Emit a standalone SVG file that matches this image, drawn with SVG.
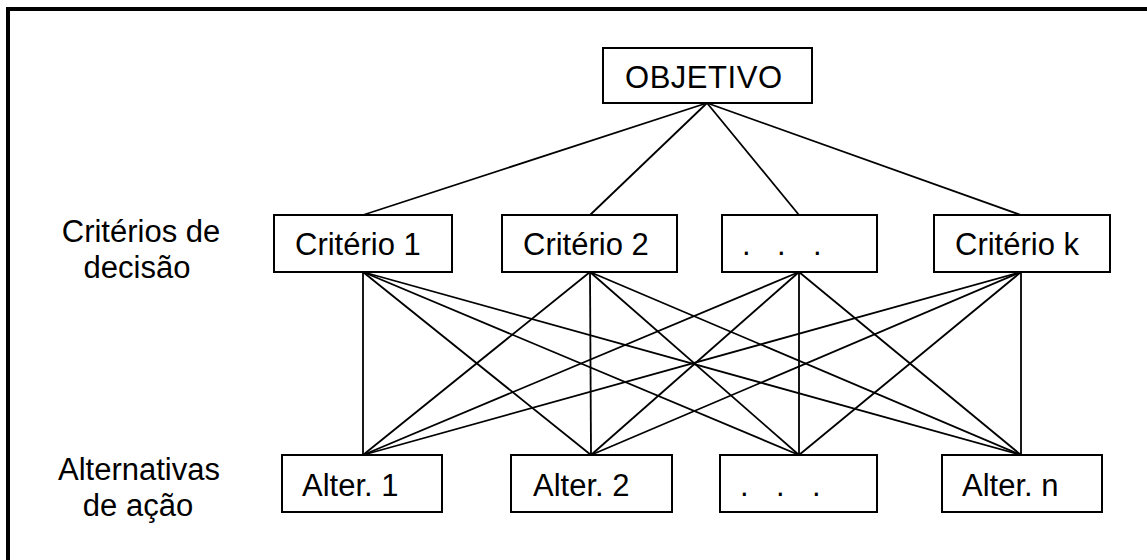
<svg xmlns="http://www.w3.org/2000/svg" width="1147" height="560" viewBox="0 0 1147 560">
  <style>
    .box { fill: #fff; stroke: #000; stroke-width: 2; }
    .lbl { font-family: "Liberation Sans", Arial, sans-serif; font-size: 31px; fill: #000; }
    .side { font-family: "Liberation Sans", Arial, sans-serif; font-size: 31px; fill: #000; text-anchor: middle; }
    #connectors line { stroke: #000; stroke-width: 1.8; }
  </style>
  <rect width="1147" height="560" fill="#fff"/>
  <!-- outer frame, open to the right and bottom -->
  <path d="M8,560 V9 H1147" fill="none" stroke="#000" stroke-width="4"/>

  <!-- level labels -->
  <g id="label-criterios">
    <text class="side" x="141" y="242">Critérios de</text>
    <text class="side" x="137" y="278">decisão</text>
  </g>
  <g id="label-alternativas">
    <text class="side" x="139" y="480">Alternativas</text>
    <text class="side" x="138" y="516">de ação</text>
  </g>

  <g id="connectors">
    <!-- goal to criteria -->
    <line x1="707" y1="103" x2="363" y2="215"/>
    <line x1="707" y1="103" x2="590" y2="215"/>
    <line x1="707" y1="103" x2="799" y2="215"/>
    <line x1="707" y1="103" x2="1021" y2="215"/>
    <!-- criterion 1 to alternatives -->
    <line x1="363" y1="272" x2="363" y2="455"/>
    <line x1="363" y1="272" x2="591" y2="455"/>
    <line x1="363" y1="272" x2="799" y2="455"/>
    <line x1="363" y1="272" x2="1021" y2="455"/>
    <!-- criterion 2 to alternatives -->
    <line x1="590" y1="272" x2="363" y2="455"/>
    <line x1="590" y1="272" x2="591" y2="455"/>
    <line x1="590" y1="272" x2="799" y2="455"/>
    <line x1="590" y1="272" x2="1021" y2="455"/>
    <!-- criterion ... to alternatives -->
    <line x1="799" y1="272" x2="363" y2="455"/>
    <line x1="799" y1="272" x2="591" y2="455"/>
    <line x1="799" y1="272" x2="799" y2="455"/>
    <line x1="799" y1="272" x2="1021" y2="455"/>
    <!-- criterion k to alternatives -->
    <line x1="1021" y1="272" x2="363" y2="455"/>
    <line x1="1021" y1="272" x2="591" y2="455"/>
    <line x1="1021" y1="272" x2="799" y2="455"/>
    <line x1="1021" y1="272" x2="1021" y2="455"/>
  </g>

  <g id="objetivo">
    <rect class="box" x="603" y="48" width="209" height="55"/>
    <text class="lbl" x="625" y="88" textLength="157">OBJETIVO</text>
  </g>

  <g id="criterio-1">
    <rect class="box" x="274" y="215" width="178" height="57"/>
    <text class="lbl" x="295" y="255">Critério 1</text>
  </g>
  <g id="criterio-2">
    <rect class="box" x="502" y="215" width="175" height="57"/>
    <text class="lbl" x="523" y="255">Critério 2</text>
  </g>
  <g id="criterio-etc">
    <rect class="box" x="722" y="215" width="155" height="57"/>
    <text class="lbl" x="742 760 777 795 813" y="255">. . .</text>
  </g>
  <g id="criterio-k">
    <rect class="box" x="934" y="215" width="176" height="57"/>
    <text class="lbl" x="955" y="255">Critério k</text>
  </g>

  <g id="alter-1">
    <rect class="box" x="282" y="455" width="160" height="57"/>
    <text class="lbl" x="302" y="496">Alter. 1</text>
  </g>
  <g id="alter-2">
    <rect class="box" x="511" y="455" width="161" height="57"/>
    <text class="lbl" x="533" y="496">Alter. 2</text>
  </g>
  <g id="alter-etc">
    <rect class="box" x="720" y="455" width="157" height="57"/>
    <text class="lbl" x="740 758 776 794 812" y="496">. . .</text>
  </g>
  <g id="alter-n">
    <rect class="box" x="942" y="455" width="160" height="57"/>
    <text class="lbl" x="962" y="496">Alter. n</text>
  </g>
</svg>
